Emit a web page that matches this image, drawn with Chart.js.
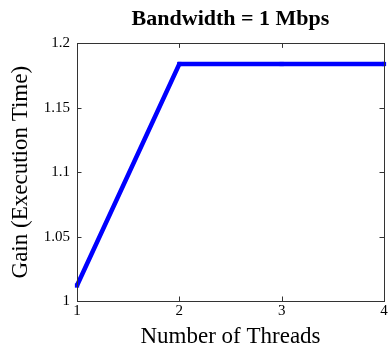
<!DOCTYPE html>
<html><head><meta charset="utf-8">
<script src="https://cdn.jsdelivr.net/npm/chart.js@4/dist/chart.umd.min.js"></script>
<style>html,body{margin:0;padding:0;background:#fff}#c{display:block}</style>
</head><body>
<div style="width:388px;height:352px"><canvas id="c" width="388" height="352"></canvas></div>
<script>
const threads = [1, 2, 3, 4];
const gain = [1.012, 1.184, 1.184, 1.184];
const yTicks = [1, 1.05, 1.1, 1.15, 1.2];
const xTicks = [1, 2, 3, 4];

const frame = {
  id: 'frame',
  afterDatasetsDraw(chart) {
    const {ctx, chartArea: a, scales: {x, y}} = chart;
    ctx.save();
    ctx.strokeStyle = '#333';
    ctx.lineWidth = 1;
    ctx.beginPath();
    const L = 4.5;
    xTicks.forEach(v => {
      const px = Math.round(x.getPixelForValue(v)) + 0.5;
      ctx.moveTo(px, a.bottom); ctx.lineTo(px, a.bottom - L);
      ctx.moveTo(px, a.top); ctx.lineTo(px, a.top + L);
    });
    yTicks.forEach(v => {
      const py = Math.round(y.getPixelForValue(v)) + 0.5;
      ctx.moveTo(a.left, py); ctx.lineTo(a.left + L, py);
      ctx.moveTo(a.right, py); ctx.lineTo(a.right - L, py);
    });
    ctx.stroke();
    ctx.strokeRect(Math.round(a.left) + 0.5, Math.round(a.top) + 0.5, Math.round(a.right - a.left), Math.round(a.bottom - a.top));
    ctx.restore();
  }
};

new Chart(document.getElementById('c'), {
  type: 'line',
  data: {
    datasets: [{
      data: threads.map((t, i) => ({x: t, y: gain[i]})),
      borderColor: '#0000ff',
      backgroundColor: '#0000ff',
      borderWidth: 4.5,
      pointStyle: 'rect',
      pointRadius: 3,
      pointBorderWidth: 0,
      tension: 0,
      clip: false
    }]
  },
  options: {
    responsive: false,
    animation: false,
    devicePixelRatio: 1,
    layout: {padding: {top: 0, right: 1, left: 0, bottom: 0}},
    plugins: {
      legend: {display: false},
      tooltip: {enabled: false},
      title: {
        display: true,
        fullSize: false,
        text: 'Bandwidth = 1 Mbps',
        color: '#000',
        font: {family: 'Liberation Serif', size: 22, weight: 'bold', lineHeight: 1.2},
        padding: {top: 6, bottom: 11}
      }
    },
    scales: {
      x: {
        type: 'linear', min: 1, max: 4,
        afterBuildTicks(s) { s.ticks = xTicks.map(v => ({value: v})); },
        afterFit(s) { s.height = 51; s.paddingLeft = 0; s.paddingRight = 0; },
        grid: {display: false, drawTicks: false},
        border: {display: false},
        ticks: {color: '#000', padding: 1, maxRotation: 0, font: {family: 'Liberation Serif', size: 15}, callback: v => String(v)},
        title: {display: true, text: 'Number of Threads', color: '#000', font: {family: 'Liberation Serif', size: 23}, padding: {top: 0, bottom: 1}}
      },
      y: {
        type: 'linear', min: 1, max: 1.2,
        afterBuildTicks(s) { s.ticks = yTicks.map(v => ({value: v})); },
        afterFit(s) { s.width = 77; s.paddingTop = 0; s.paddingBottom = 0; },
        grid: {display: false, drawTicks: false},
        border: {display: false},
        ticks: {color: '#000', padding: 7, font: {family: 'Liberation Serif', size: 15}, callback: v => String(Math.round(v * 100) / 100)},
        title: {display: true, text: 'Gain (Execution Time)', color: '#000', font: {family: 'Liberation Serif', size: 23}, padding: {top: 7, bottom: 0}}
      }
    }
  },
  plugins: [frame]
});
</script>
</body></html>
